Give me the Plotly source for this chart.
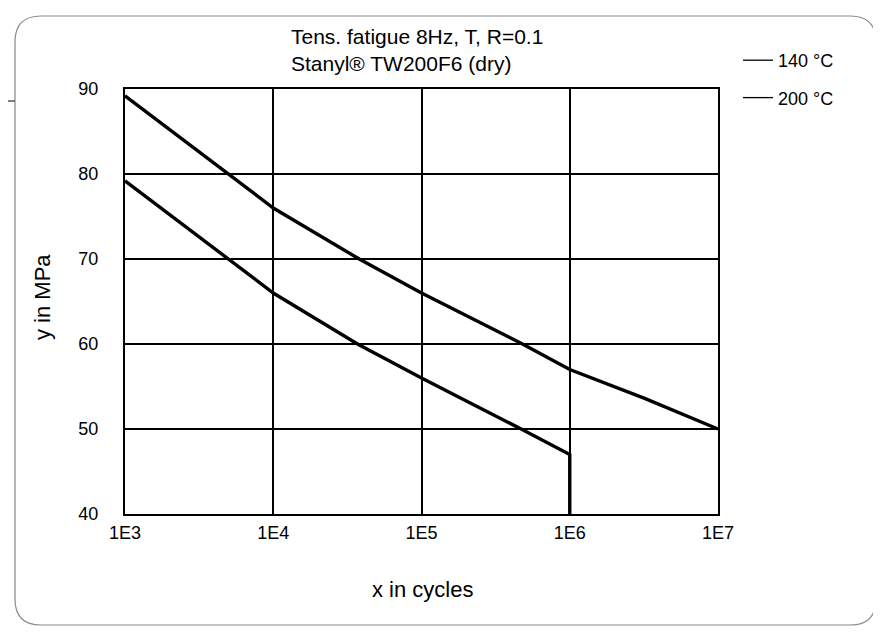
import plotly.graph_objects as go

# Data
cycles_140 = [1e3, 1e4, 3.8e4, 1e5, 4.8e5, 1e6, 3.2e6, 1e7]
stress_140 = [89.2, 76.0, 70.0, 66.0, 60.0, 57.0, 53.6, 50.0]
cycles_200 = [1e3, 5e3, 1e4, 3.7e4, 1e5, 4.7e5, 1e6, 1e6]
stress_200 = [79.2, 70.0, 66.0, 60.0, 56.0, 50.0, 47.0, 40.0]
series_names = ["140 °C", "200 °C"]
x_tick_vals = [1e3, 1e4, 1e5, 1e6, 1e7]
x_tick_text = ["1E3", "1E4", "1E5", "1E6", "1E7"]
y_tick_vals = [40, 50, 60, 70, 80, 90]

OFF = 8                     # page body margin
W, H = 881 - OFF, 632 - OFF
L, R, T, B = 125, 718, 89, 514   # plot area in window pixels

def px(x):
    return (x - L) / (R - L)

def py(y):
    return (B - y) / (B - T)

fig = go.Figure()
fig.add_trace(go.Scatter(x=cycles_140, y=stress_140, mode="lines",
                         line=dict(color="black", width=3.4), showlegend=False))
fig.add_trace(go.Scatter(x=cycles_200, y=stress_200, mode="lines",
                         line=dict(color="black", width=3.4), showlegend=False))
# legend entries (thin lines like the reference)
for nm in series_names:
    fig.add_trace(go.Scatter(x=[None], y=[None], mode="lines", name=nm,
                             legendgroup=nm, line=dict(color="black", width=1.3)))

font = "Liberation Sans, Arial, sans-serif"

# rounded border around the whole chart
x0, y0, x1, y1, r = 15, 16, 876, 625, 26
path = (f"M {px(x0+r)},{py(y0)} L {px(x1-r)},{py(y0)} Q {px(x1)},{py(y0)} {px(x1)},{py(y0+r)} "
        f"L {px(x1)},{py(y1-r)} Q {px(x1)},{py(y1)} {px(x1-r)},{py(y1)} "
        f"L {px(x0+r)},{py(y1)} Q {px(x0)},{py(y1)} {px(x0)},{py(y1-r)} "
        f"L {px(x0)},{py(y0+r)} Q {px(x0)},{py(y0)} {px(x0+r)},{py(y0)} Z")
shapes = [
    dict(type="path", path=path, xref="paper", yref="paper",
         line=dict(color="#8a8a8a", width=1.2), layer="above"),
    dict(type="line", xref="paper", yref="paper", x0=px(0), x1=px(15), y0=py(101), y1=py(101),
         line=dict(color="#555555", width=1.5)),
]

fig.update_layout(
    width=W, height=H,
    margin=dict(l=L - OFF, r=W - (R - OFF), t=T - OFF, b=H - (B - OFF)),
    paper_bgcolor="white", plot_bgcolor="white",
    font=dict(family=font, size=18, color="black"),
    shapes=shapes,
    xaxis=dict(type="log", range=[3, 7], tickvals=x_tick_vals, ticktext=x_tick_text,
               showgrid=True, gridcolor="black", gridwidth=1.6,
               showline=True, linecolor="black", linewidth=2.2, mirror=True,
               ticks="", zeroline=False, ticklabelstandoff=1),
    yaxis=dict(range=[40, 90], tickvals=y_tick_vals,
               showgrid=True, gridcolor="black", gridwidth=1.6,
               showline=True, linecolor="black", linewidth=2.2, mirror=True,
               ticks="", zeroline=False, ticklabelstandoff=21),
    legend=dict(x=px(738), y=py(42), xanchor="left", yanchor="top",
                bgcolor="rgba(0,0,0,0)", tracegroupgap=11,
                font=dict(size=18), itemwidth=30),
    annotations=[
        dict(text="Tens. fatigue 8Hz, T, R=0.1<br>Stanyl® TW200F6 (dry)",
             x=px(289), y=py(50), xref="paper", yref="paper",
             xanchor="left", yanchor="middle", showarrow=False,
             font=dict(size=21), align="left"),
        dict(text="x in cycles", x=px(422), y=py(589), xref="paper", yref="paper",
             xanchor="center", yanchor="middle", showarrow=False, font=dict(size=22)),
        dict(text="y in MPa", x=px(42), y=py(297), xref="paper", yref="paper",
             xanchor="center", yanchor="middle", showarrow=False, textangle=-90,
             font=dict(size=22)),
    ],
)

fig.write_html("out.html")
